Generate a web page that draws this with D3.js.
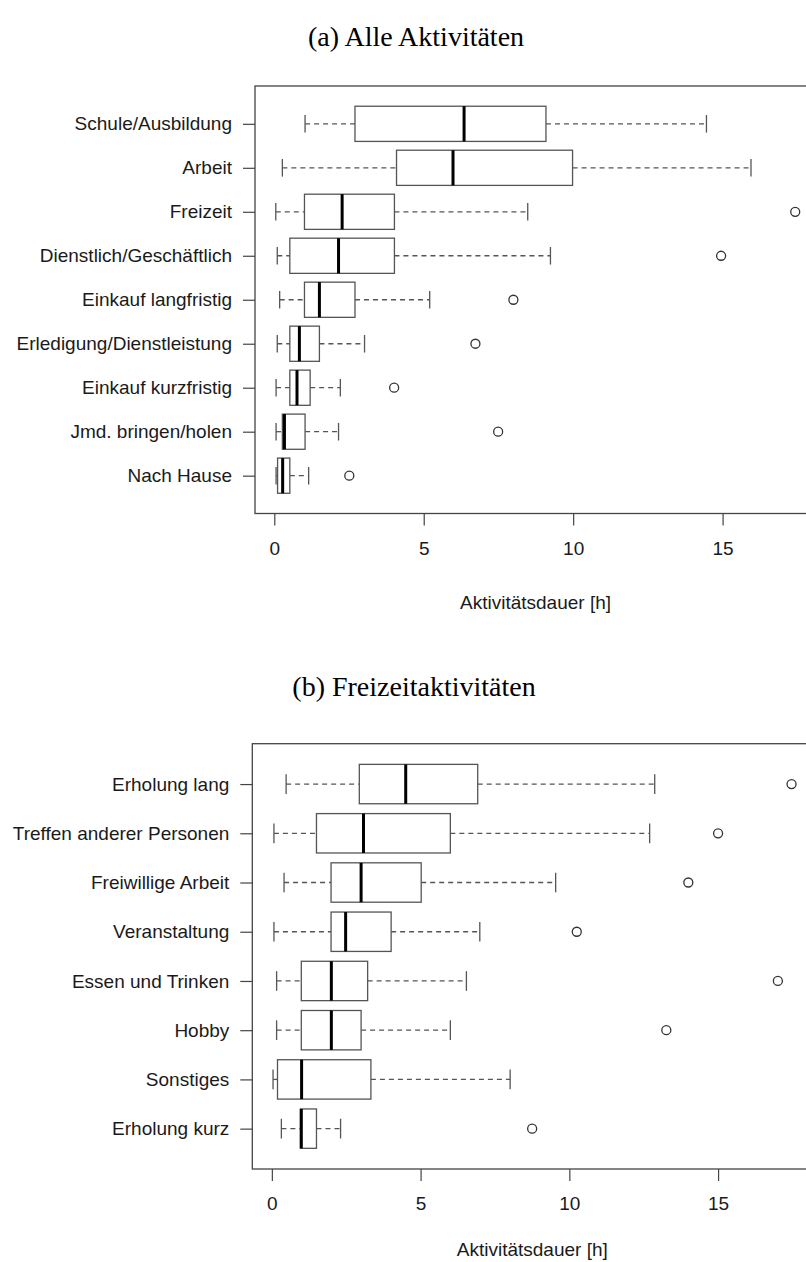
<!DOCTYPE html>
<html>
<head>
<meta charset="utf-8">
<script src="https://cdn.jsdelivr.net/npm/d3@7"></script>
<style>
  body { margin: 0; background: #fff; }
  svg text { font-family: "Liberation Sans", Arial, sans-serif; fill: #1a1a1a; }
  .title { font-family: "Liberation Serif", "Times New Roman", serif; font-size: 28px; fill: #000; }
</style>
</head>
<body>
<svg id="chart" width="806" height="1262"></svg>
<script>
// (a) Alle Aktivitäten -- top to bottom
const catsA = ['Schule/Ausbildung', 'Arbeit', 'Freizeit', 'Dienstlich/Geschäftlich', 'Einkauf langfristig',
  'Erledigung/Dienstleistung', 'Einkauf kurzfristig', 'Jmd. bringen/holen', 'Nach Hause'];
const loA  = [1.03, 0.27, 0.05, 0.10, 0.18, 0.10, 0.06, 0.06, 0.06];
const q1A  = [2.70, 4.09, 1.01, 0.52, 1.01, 0.52, 0.52, 0.27, 0.11];
const medA = [6.35, 5.98, 2.27, 2.15, 1.51, 0.84, 0.76, 0.34, 0.28];
const q3A  = [9.09, 9.98, 4.02, 4.02, 2.70, 1.51, 1.20, 1.03, 0.52];
const hiA  = [14.46, 15.95, 8.48, 9.24, 5.20, 3.02, 2.21, 2.15, 1.15];
const outA = [[], [], [17.43], [14.95], [8.00], [6.73], [4.01], [7.49], [2.51]];

// (b) Freizeitaktivitäten
const catsB = ['Erholung lang', 'Treffen anderer Personen', 'Freiwillige Arbeit', 'Veranstaltung',
  'Essen und Trinken', 'Hobby', 'Sonstiges', 'Erholung kurz'];
const loB  = [0.48, 0.07, 0.41, 0.07, 0.16, 0.16, 0.04, 0.32];
const q1B  = [2.94, 1.50, 1.99, 1.99, 0.99, 0.99, 0.19, 0.96];
const medB = [4.50, 3.08, 3.00, 2.48, 2.00, 2.00, 1.00, 0.99];
const q3B  = [6.92, 6.00, 5.02, 4.01, 3.22, 3.00, 3.33, 1.50];
const hiB  = [12.87, 12.70, 9.54, 6.99, 6.54, 6.00, 8.01, 2.31];
const outB = [[17.47], [15.00], [14.00], [10.25], [17.01], [13.26], [], [8.75]];

const xTicks = [0, 5, 10, 15];
const xLabel = 'Aktivitätsdauer [h]';

const svg = d3.select('#chart');

const drawPanel = (p) => {
  const g = svg.append('g');
  const n = p.cats.length;
  const all = p.lo.concat(p.hi, p.out.flat());
  const lo = d3.min(all), hi = d3.max(all), pad = (hi - lo) * 0.04;
  const x = d3.scaleLinear().domain([lo - pad, hi + pad]).range([p.left, p.left + p.width]);
  const y = d3.scaleLinear().domain([0.5 - 0.04 * n, n + 0.5 + 0.04 * n]).range([p.bottom, p.top]);
  const pos = i => y(n - i);
  const unit = Math.abs(y(1) - y(0));

  g.append('text').attr('class', 'title')
    .attr('x', p.titleX).attr('y', p.titleY).attr('text-anchor', 'middle').text(p.title);

  const rows = p.cats.map((c, i) => ({
    c, i, lo: p.lo[i], q1: p.q1[i], med: p.med[i], q3: p.q3[i], hi: p.hi[i], out: p.out[i],
  }));
  const row = g.selectAll('g.row').data(rows).join('g').attr('class', 'row');

  // whiskers (dashed, like lty = 2)
  row.append('line').attr('x1', d => x(d.lo)).attr('x2', d => x(d.q1))
    .attr('y1', d => pos(d.i)).attr('y2', d => pos(d.i));
  row.append('line').attr('x1', d => x(d.q3)).attr('x2', d => x(d.hi))
    .attr('y1', d => pos(d.i)).attr('y2', d => pos(d.i));
  row.selectAll('line').attr('stroke', '#555').attr('stroke-width', 1.3).attr('stroke-dasharray', '5,4');

  // staples
  ['lo', 'hi'].forEach(k => {
    row.append('line').attr('x1', d => x(d[k])).attr('x2', d => x(d[k]))
      .attr('y1', d => pos(d.i) - unit * 0.2).attr('y2', d => pos(d.i) + unit * 0.2)
      .attr('stroke', '#555').attr('stroke-width', 1.3);
  });

  // box
  row.append('rect')
    .attr('x', d => x(d.q1)).attr('width', d => x(d.q3) - x(d.q1))
    .attr('y', d => pos(d.i) - unit * 0.4).attr('height', unit * 0.8)
    .attr('fill', '#fff').attr('stroke', '#555').attr('stroke-width', 1.3);

  // median
  row.append('line').attr('x1', d => x(d.med)).attr('x2', d => x(d.med))
    .attr('y1', d => pos(d.i) - unit * 0.4).attr('y2', d => pos(d.i) + unit * 0.4)
    .attr('stroke', '#000').attr('stroke-width', 3);

  // outliers
  row.selectAll('circle').data(d => d.out.map(v => ({ v, i: d.i }))).join('circle')
    .attr('cx', d => x(d.v)).attr('cy', d => pos(d.i)).attr('r', 4.5)
    .attr('fill', 'none').attr('stroke', '#333').attr('stroke-width', 1.3);

  // frame
  g.append('rect').attr('x', p.left).attr('y', p.top)
    .attr('width', p.width).attr('height', p.bottom - p.top)
    .attr('fill', 'none').attr('stroke', '#444').attr('stroke-width', 1.3);

  // axes
  const ax = g.append('g').attr('transform', `translate(0,${p.bottom})`)
    .call(d3.axisBottom(x).tickValues(xTicks).tickSize(12).tickPadding(16));
  const ay = g.append('g').attr('transform', `translate(${p.left},0)`)
    .call(d3.axisLeft(y).tickValues(d3.range(1, n + 1)).tickFormat(v => p.cats[n - v])
      .tickSize(12).tickPadding(11));
  [ax, ay].forEach(a => {
    a.select('.domain').remove();
    a.attr('font-size', null).attr('font-family', null);
    a.selectAll('line').attr('stroke', '#444').attr('stroke-width', 1.2);
    a.selectAll('text').style('font-size', '19px').attr('fill', '#1a1a1a');
  });

  g.append('text').attr('x', p.left + p.width / 2).attr('y', p.labelY)
    .attr('text-anchor', 'middle').style('font-size', '19px').text(xLabel);
};

drawPanel({
  title: '(a) Alle Aktivitäten', titleX: 416, titleY: 46,
  cats: catsA, lo: loA, q1: q1A, med: medA, q3: q3A, hi: hiA, out: outA,
  left: 255, width: 561, top: 86, bottom: 513.5, labelY: 609,
});
drawPanel({
  title: '(b) Freizeitaktivitäten', titleX: 414, titleY: 696,
  cats: catsB, lo: loB, q1: q1B, med: medB, q3: q3B, hi: hiB, out: outB,
  left: 252.3, width: 560, top: 743.7, bottom: 1169, labelY: 1256,
});
</script>
</body>
</html>
